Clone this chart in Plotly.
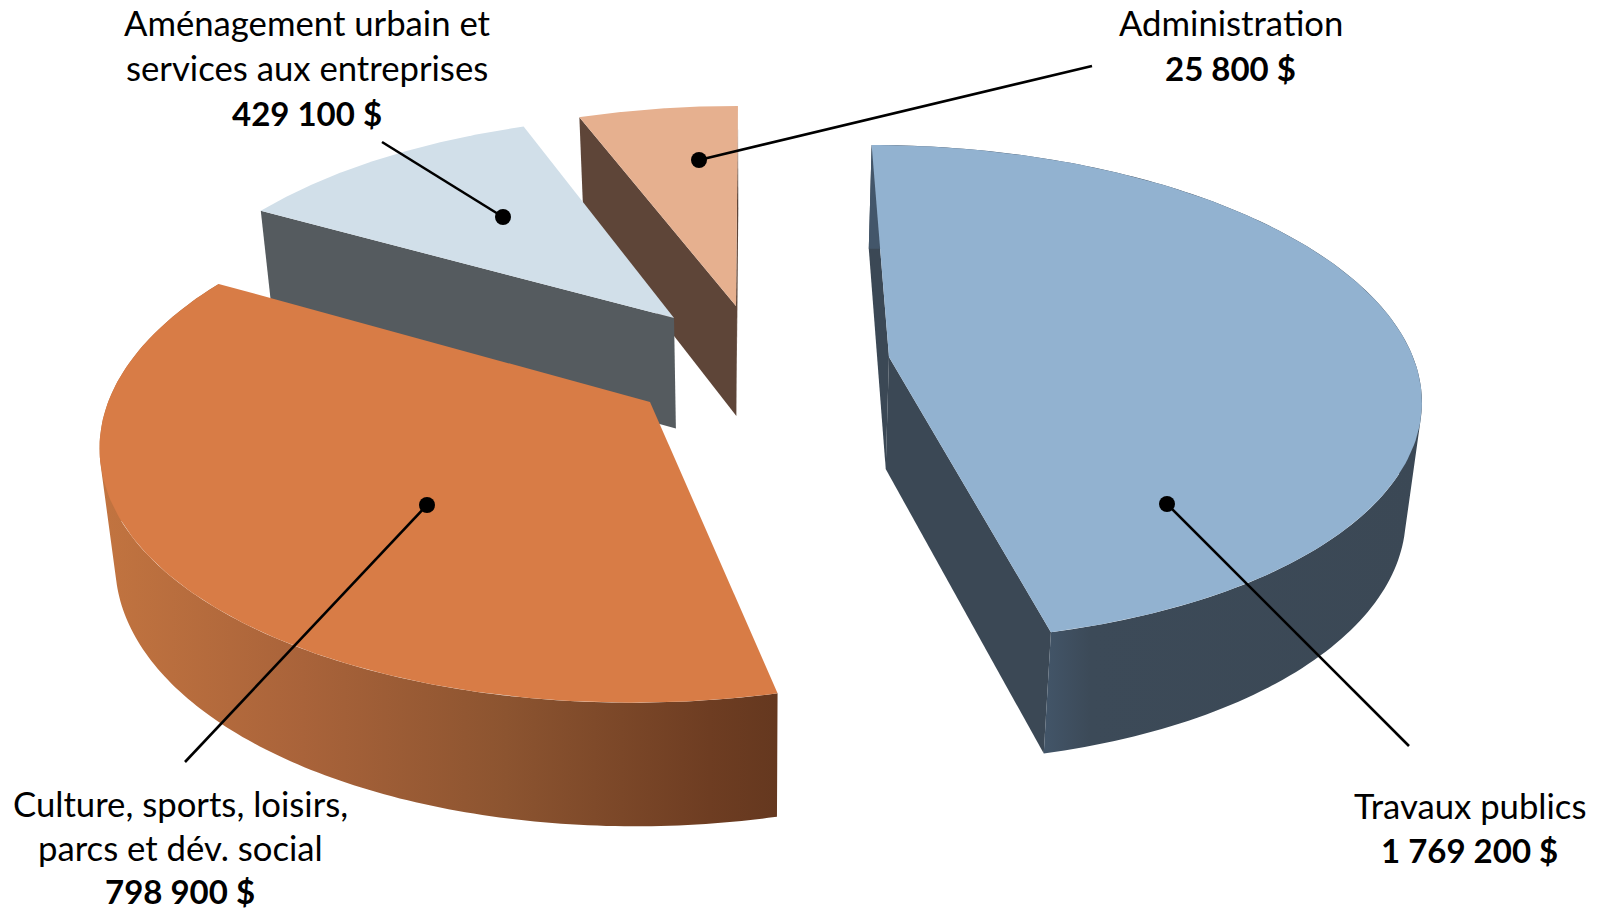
import numpy as np
import plotly.graph_objects as go

# ---- data ----
categories = ["Travaux publics", "Culture, sports, loisirs, parcs et dév. social",
              "Aménagement urbain et services aux entreprises", "Administration"]
amounts = ["1 769 200 $", "798 900 $", "429 100 $", "25 800 $"]
drawn_share = [46.33, 36.92, 11.05, 5.70]      # angular share of each slice as drawn (%)

label_lines = [["Travaux publics"],
               ["Culture, sports, loisirs,", "parcs et dév. social"],
               ["Aménagement urbain et", "services aux entreprises"],
               ["Administration"]]

# ---- styling / layout ----
explode_x = [0.2596, -0.1882, -0.1513, -0.0313]
explode_y = [0.004, -0.1764, 0.1686, 0.2208]
radius_x = [0.993, 1, 1, 1]
top_colors = ["#92B2D0", "#D87C46", "#D1DFE9", "#E6B08F"]
wall_colors = ["#3B4855", "#8C5430", "#555B5F", "#5E4538"]
label_center_x = [1469.5, 180, 307, 1230.5]
label_first_y = [805, 803, 22.5, 22.5]
line_step = [45, 44, 45, 45]
leader_x = [[1167, 1409], [427, 185], [503, 382], [699, 1092]]
leader_y = [[504, 746], [505, 762], [217, 142], [160, 66]]

# perspective projection of the pie plane
CX, CY, A, B, K = 752, 358, 528, 243, 0.145
H, K2, SHRINK = 112, 0.08, 0.976


def project(X, Y, bottom=False):
    X, Y = np.asarray(X, float), np.asarray(Y, float)
    w = 1 + K * Y
    sx = CX + A * X / w
    sy = CY - B * Y / w
    if bottom:
        sx = CX + (sx - CX) * SHRINK
        sy = sy + H / (1 + K2 * Y)
    return sx, sy


def poly(xs, ys, color=None, gradient=None):
    kw = dict(x=list(xs), y=list(ys), mode="lines", fill="toself", line=dict(width=0),
              hoverinfo="skip", showlegend=False)
    if gradient:
        kw["fillgradient"] = dict(type="horizontal", colorscale=gradient)
    else:
        kw["fillcolor"] = color
    return go.Scatter(**kw)


def swept_wall(tx, ty, bx, by):
    """Union of the quads swept between the top and bottom rims, all wound the same way."""
    xs, ys = [], []
    for j in range(len(tx) - 1):
        qx = [tx[j], tx[j + 1], bx[j + 1], bx[j]]
        qy = [ty[j], ty[j + 1], by[j + 1], by[j]]
        area = sum(qx[n] * qy[(n + 1) % 4] - qx[(n + 1) % 4] * qy[n] for n in range(4))
        if area < 0:
            qx, qy = qx[::-1], qy[::-1]
        xs += qx + [qx[0], None]
        ys += qy + [qy[0], None]
    return xs[:-1], ys[:-1]


edges = np.concatenate([[0], np.cumsum(drawn_share)]) * 3.6
orange_grad = [[0, "#C27440"], [0.3, "#A9633A"], [0.6, "#8C5430"], [0.9, "#6E3D22"], [1, "#65381F"]]
blue_grad = [[0, "#43566A"], [0.31, "#43566A"], [0.40, "#3C4A58"], [1, "#3B4855"]]
outer_gradient = {0: blue_grad, 1: orange_grad}
radial_walls = {0: [0, 1], 1: [], 2: [0], 3: [0, 1]}

fig = go.Figure()
for i in [3, 2, 1, 0]:
    t0, t1 = np.radians(edges[i]), np.radians(edges[i + 1])
    th = np.linspace(t0, t1, 160)
    RX = explode_x[i] + radius_x[i] * np.sin(th)
    RY = explode_y[i] + np.cos(th)
    ax, ay = explode_x[i], explode_y[i]

    for e in radial_walls[i]:
        t = t0 if e == 0 else t1
        px, py = ax + radius_x[i] * np.sin(t), ay + np.cos(t)
        tx, ty = project([ax, px], [ay, py])
        bx, by = project([px, ax], [py, ay], bottom=True)
        fig.add_trace(poly(np.r_[tx, bx, tx[0]], np.r_[ty, by, ty[0]], wall_colors[i]))

    if i in outer_gradient:
        tx, ty = project(RX, RY)
        bx, by = project(RX, RY, bottom=True)
        wx, wy = swept_wall(tx, ty, bx, by)
        fig.add_trace(poly(wx, wy, gradient=outer_gradient[i]))

    tx, ty = project(np.r_[ax, RX, ax], np.r_[ay, RY, ay])
    fig.add_trace(poly(tx, ty, top_colors[i]))

for lx, ly in zip(leader_x, leader_y):
    fig.add_trace(go.Scatter(x=lx, y=ly, mode="lines", line=dict(color="black", width=2.6),
                             hoverinfo="skip", showlegend=False))
    fig.add_trace(go.Scatter(x=lx[:1], y=ly[:1], mode="markers",
                             marker=dict(color="black", size=16, line=dict(width=0)),
                             hoverinfo="skip", showlegend=False))

FONT = "Lato, Carlito, Calibri, sans-serif"
annotations = []
for i, lines in enumerate(label_lines):
    rows = [(t, 34.7) for t in lines] + [("<b>" + amounts[i] + "</b>", 33)]
    for r, (row, size) in enumerate(rows):
        annotations.append(dict(x=label_center_x[i], y=label_first_y[i] + r * line_step[i],
                                xref="x", yref="y", text=row, showarrow=False,
                                xanchor="center", yanchor="middle",
                                font=dict(family=FONT, size=size, color="black")))

fig.update_layout(width=1598, height=912, margin=dict(l=0, r=0, t=0, b=0),
                  paper_bgcolor="white", plot_bgcolor="white", showlegend=False,
                  xaxis=dict(range=[0, 1598], visible=False, fixedrange=True),
                  yaxis=dict(range=[912, 0], visible=False, fixedrange=True),
                  annotations=annotations)
fig.write_html("out.html", post_script="document.body.style.margin='0';",
               config={"displayModeBar": False})
